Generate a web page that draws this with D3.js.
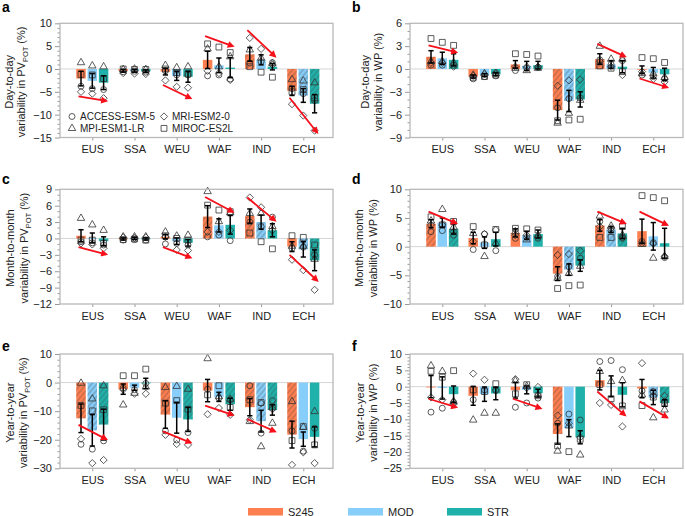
<!DOCTYPE html>
<html><head><meta charset="utf-8">
<script src="https://cdn.jsdelivr.net/npm/d3@7"></script>
<style>body{margin:0;background:#fff}svg{display:block;font-family:"Liberation Sans",Arial,sans-serif}</style>
</head><body><svg id="c" width="685" height="516"></svg>
<script>
const regions = ["EUS","SSA","WEU","WAF","IND","ECH"];
const scenarios = ["S245","MOD","STR"];
const scenarioColors = ["#FF7F50","#87CEFA","#20B2AA"];
const models = ["ACCESS-ESM-5","MRI-ESM2-0","MPI-ESM1-LR","MIROC-ES2L"];

// ---- panel a: day-to-day PVpot ----
const aTicks = [-15,-10,-5,0,5,10];
const aMean = [[-2.1,-2.6,-3.0],[-0.4,-0.4,-0.5],[-0.6,-1.5,-1.7],[2.0,0.8,0.3],[3.2,2.0,0.5],[-4.8,-5.8,-7.6]];
const aSd   = [[1.6,1.6,1.5],[0.3,0.3,0.3],[0.7,1.0,1.2],[1.9,1.6,2.2],[1.5,1.1,0.7],[1.0,1.5,2.0]];
const aAccess = [[-3.8,-4.3,-4.5],[-0.6,-0.5,-0.7],[-0.4,-1.3,-1.3],[-1.5,-1.3,-2.2],[1.3,1.6,1.4],[-4.3,-5.4,-6.9]];
const aMri    = [[-5.0,-5.4,-6.4],[-0.9,-1.0,-1.1],[-2.5,-3.9,-4.1],[-0.4,-0.9,-2.4],[6.8,4.4,0.9],[-7.7,-10.2,-13.5]];
const aMpi    = [[1.4,0.7,0.5],[-0.1,0.0,-0.1],[0.8,0.3,0.5],[4.4,0.5,2.7],[4.2,2.4,1.2],[-2.3,-2.6,-3.0]];
const aMiroc  = [[-1.2,-1.3,-2.1],[0.0,-0.1,-0.1],[0.0,-0.8,-1.1],[5.5,4.8,3.6],[0.5,-0.7,-1.8],[-5.0,-4.5,-6.3]];
const aHatch  = [[0,0,0],[0,0,0],[0,0,0],[0,0,0],[1,0,0],[1,1,1]];
const aArrows = [[0,-6.0,-7.0],[2,-3.5,-6.4],[3,7.2,5.0],[4,8.5,2.8],[5,-6.3,-13.9]];

// ---- panel b: day-to-day WP ----
const bTicks = [-9,-6,-3,0,3,6];
const bMean = [[1.6,1.4,1.2],[-1.0,-0.8,-0.7],[0.6,0.4,0.5],[-5.4,-4.2,-4.0],[1.3,0.6,0.3],[-0.1,-0.5,-0.7]];
const bSd   = [[0.8,0.8,0.8],[0.2,0.2,0.2],[0.5,0.6,0.5],[1.3,1.4,1.0],[0.7,0.5,0.8],[0.5,0.7,0.8]];
const bAccess = [[0.5,0.5,0.5],[-1.3,-1.0,-0.9],[-0.2,0.1,0.2],[-5.1,-3.9,-3.8],[1.2,0.6,1.1],[-0.8,-1.0,-1.3]];
const bMri    = [[0.8,0.8,0.3],[-0.9,-0.7,-0.5],[0.3,0.3,0.3],[-2.2,-1.5,-1.4],[1.0,0.3,-0.8],[-0.35,-1.3,-1.7]];
const bMpi    = [[1.0,1.0,0.8],[-0.8,-0.6,-0.6],[0.1,-0.2,0.1],[-7.1,-5.8,-4.1],[3.0,1.3,1.3],[-0.6,-0.6,-1.1]];
const bMiroc  = [[4.0,3.5,3.1],[-1.1,-1.0,-0.8],[2.0,1.9,1.7],[-6.8,-6.7,-6.6],[0.4,0.1,-0.35],[1.5,1.35,0.85]];
const bHatch  = [[1,0,0],[0,0,0],[0,0,0],[1,1,1],[1,0,0],[0,0,0]];
const bArrows = [[0,3.1,2.2],[4,3.3,1.65],[5,-1.25,-2.4]];

// ---- panel c: month-to-month PVpot ----
const cTicks = [-12,-9,-6,-3,0,3,6,9];
const cMean = [[0.5,0.1,-0.5],[-0.1,0.0,-0.1],[0.3,-0.5,-0.8],[4.0,2.4,2.5],[4.1,3.0,1.5],[-1.5,-2.0,-4.0]];
const cSd   = [[1.1,0.9,0.8],[0.2,0.2,0.2],[0.4,0.6,0.6],[2.0,1.2,1.7],[1.3,1.3,1.2],[0.9,1.4,1.9]];
const cAccess = [[-0.6,-0.8,-1.2],[-0.3,-0.2,-0.3],[-1.0,-0.9,-1.2],[0.3,0.6,-0.4],[3.0,2.2,3.9],[-1.8,-1.6,-3.0]];
const cMri    = [[-0.9,-1.1,-1.8],[0.2,0.1,0.2],[0.3,-2.1,-2.2],[1.2,1.2,1.5],[7.5,5.7,1.5],[-3.9,-5.8,-9.4]];
const cMpi    = [[3.7,2.5,1.5],[0.3,0.3,0.3],[1.2,0.45,0.6],[8.6,3.1,4.7],[4.6,4.6,2.2],[-1.4,-1.4,-3.8]];
const cMiroc  = [[-0.3,-0.3,-0.9],[-0.2,-0.1,-0.3],[0.5,0.0,-0.3],[6.1,5.2,4.9],[1.0,-0.6,-1.9],[0.5,0.2,-1.2]];
const cHatch  = [[0,0,0],[0,0,0],[0,0,0],[1,0,0],[1,1,0],[0,1,1]];
const cArrows = [[0,-1.6,-2.9],[2,-1.6,-3.5],[3,7.6,4.9],[4,7.5,3.3],[5,-3.0,-7.7]];

// ---- panel d: month-to-month WP ----
const dTicks = [-10,-5,0,5,10];
const dMean = [[4.0,4.2,3.1],[1.5,0.7,1.3],[2.4,2.0,2.2],[-4.7,-4.0,-3.3],[3.7,3.0,2.3],[2.7,1.8,0.6]];
const dSd   = [[0.7,0.8,0.9],[1.0,1.0,1.2],[0.7,0.7,0.7],[1.2,1.0,1.0],[1.0,0.5,0.9],[2.1,2.4,2.6]];
const dAccess = [[2.6,2.8,2.0],[-0.5,2.2,-0.7],[1.45,1.6,1.45],[-5.2,-3.5,-2.0],[4.4,2.8,1.6],[0.9,0.7,-1.9]];
const dMri    = [[3.8,3.8,2.6],[0.9,2.2,2.9],[2.0,2.0,1.7],[-1.45,-1.3,-0.7],[3.5,3.2,1.45],[0.6,0.5,-1.7]];
const dMpi    = [[4.5,6.5,3.4],[2.3,-1.7,0.6],[2.6,1.2,2.0],[-5.5,-4.65,-3.4],[5.35,3.6,2.0],[0.4,-2.0,-1.7]];
const dMiroc  = [[5.2,3.8,4.4],[3.5,0.3,3.0],[3.2,3.1,2.9],[-7.3,-6.8,-6.7],[1.6,1.6,3.5],[8.9,8.55,8.0]];
const dHatch  = [[1,0,1],[0,0,0],[0,0,0],[1,1,1],[1,1,1],[0,0,0]];
const dArrows = [[0,6.1,4.1],[4,6.1,4.1],[5,6.1,3.8]];

// ---- panel e: year-to-year PVpot ----
const eTicks = [-30,-20,-10,0,10];
const eMean = [[-12.5,-16.7,-14.7],[-2.3,-1.8,-0.3],[-11.2,-12.3,-12.9],[-2.8,-5.0,-7.6],[-8.6,-13.5,-9.6],[-18.2,-19.8,-19.0]];
const eSd   = [[5.0,5.5,5.4],[1.8,0.9,1.8],[4.8,5.4,4.2],[3.9,1.6,2.1],[3.0,3.8,1.8],[4.7,2.5,3.5]];
const eAccess = [[-21.6,-23.3,-20.4],[-1.9,-2.5,-0.3],[-16.9,-20.1,-17.5],[-2.3,-5.4,-6.0],[-1.1,-17.7,-6.3],[-16.9,-24.0,-16.0]];
const eMri    = [[-19.7,-28.2,-27.1],[-2.5,-3.9,-3.9],[-18.3,-21.5,-21.8],[-11.1,-8.9,-11.3],[-13.0,-7.2,-9.3],[-28.8,-24.4,-28.2]];
const eMpi    = [[-0.2,-5.7,-1.1],[-7.8,-3.7,-1.5],[-1.7,-1.3,-2.3],[8.4,-4.9,-5.8],[-13.6,-22.4,-14.2],[-6.6,-15.6,-10.1]];
const eMiroc  = [[-8.0,-9.9,-9.5],[2.4,2.4,4.7],[-7.2,-6.3,-9.3],[-4.3,-1.1,-8.7],[-6.0,-7.0,-8.6],[-20.3,-15.4,-21.8]];
const eHatch  = [[1,1,1],[0,0,0],[1,0,1],[0,0,1],[1,1,1],[1,0,0]];
const eArrows = [[0,-14.8,-19.8],[2,-17.1,-21.0],[3,-8.1,-11.3],[4,-12.8,-17.1]];

// ---- panel f: year-to-year WP ----
const fTicks = [-25,-20,-15,-10,-5,0,5,10];
const fMean = [[0.0,-0.4,-2.3],[-2.8,-2.3,-2.1],[-1.1,-1.0,-2.0],[-14.5,-12.7,-15.5],[2.0,0.1,-2.5],[-0.6,-3.3,-5.0]];
const fSd   = [[3.4,3.4,2.5],[2.9,2.2,1.9],[2.4,1.2,1.2],[3.1,2.6,2.0],[3.0,3.2,3.7],[2.8,2.2,1.0]];
const fAccess = [[-7.8,-6.6,-4.8],[-4.0,-1.0,-1.2],[-6.3,-5.0,-3.5],[-11.2,-8.4,-10.2],[7.7,8.0,5.2],[-1.3,-1.5,-4.5]];
const fMri    = [[-3.3,-4.0,-5.3],[4.0,2.1,-1.0],[2.3,-0.4,-0.1],[-8.8,-11.2,-15.5],[-5.0,-5.6,-12.2],[7.2,-2.8,-2.8]];
const fMpi    = [[6.4,4.7,-4.5],[-10.2,-8.1,-8.1],[1.8,0.1,-2.5],[-19.7,-12.0,-20.9],[4.7,1.6,1.9],[-2.5,-9.5,-7.1]];
const fMiroc  = [[4.7,2.9,4.9],[-1.0,-1.5,0.9],[-2.2,0.6,-2.8],[-18.1,-19.9,-16.1],[0.6,-3.7,-5.9],[-5.8,-3.2,-5.2]];
const fHatch  = [[0,0,0],[0,0,0],[0,0,0],[1,0,0],[0,0,0],[0,1,1]];
const fArrows = [[0,-3.7,-6.3],[2,-3.7,-6.6],[4,-1.5,-8.7],[5,-4.5,-9.4]];

// legend placement (data units of panel a)
const legendRowsA = [-10.4, -13.0];

// ---------------- drawing ----------------
const panels = [
  {letter:"a", mean:aMean, sd:aSd, m:[aAccess,aMri,aMpi,aMiroc], hatch:aHatch, arrows:aArrows, ticks:aTicks, minor:1, t1:"Day-to-day", wp:false, col:0, row:0, tx:[13,25], legend:true},
  {letter:"b", mean:bMean, sd:bSd, m:[bAccess,bMri,bMpi,bMiroc], hatch:bHatch, arrows:bArrows, ticks:bTicks, minor:1, t1:"Day-to-day", wp:true, col:1, row:0, tx:[369,382]},
  {letter:"c", mean:cMean, sd:cSd, m:[cAccess,cMri,cMpi,cMiroc], hatch:cHatch, arrows:cArrows, ticks:cTicks, minor:1, t1:"Month-to-month", wp:false, col:0, row:1, tx:[14,28]},
  {letter:"d", mean:dMean, sd:dSd, m:[dAccess,dMri,dMpi,dMiroc], hatch:dHatch, arrows:dArrows, ticks:dTicks, minor:1, t1:"Month-to-month", wp:true, col:1, row:1, tx:[363,377]},
  {letter:"e", mean:eMean, sd:eSd, m:[eAccess,eMri,eMpi,eMiroc], hatch:eHatch, arrows:eArrows, ticks:eTicks, minor:2, t1:"Year-to-year", wp:false, col:0, row:2, tx:[14,27]},
  {letter:"f", mean:fMean, sd:fSd, m:[fAccess,fMri,fMpi,fMiroc], hatch:fHatch, arrows:fArrows, ticks:fTicks, minor:1, t1:"Year-to-year", wp:true, col:1, row:2, tx:[364,377]},
];
const colLeft = [60, 410], plotW = 273;
const rowTop = [23.3, 189.3, 354], rowBot = [137.5, 304, 468.3];
const letterPos = [[2,12],[352,12],[2,184],[352,184],[2,351],[352,351]];

const svg = d3.select("#c");
const defs = svg.append("defs");
const pat = defs.append("pattern").attr("id","hatch").attr("patternUnits","userSpaceOnUse")
  .attr("width",4).attr("height",4).attr("patternTransform","rotate(40)");
pat.append("line").attr("x1",1).attr("y1",0).attr("x2",1).attr("y2",4)
  .attr("stroke","#3a3a3a").attr("stroke-width",0.6).attr("stroke-opacity",0.75);
defs.append("marker").attr("id","arr").attr("viewBox","0 0 10 10").attr("refX",7).attr("refY",5)
  .attr("markerWidth",8).attr("markerHeight",7).attr("markerUnits","userSpaceOnUse").attr("orient","auto")
  .append("path").attr("d","M0,0 L10,5 L0,10 z").attr("fill","#f5101a");

const diamond = {draw(ctx, size){const r=Math.sqrt(size/2); ctx.moveTo(0,-r); ctx.lineTo(r,0); ctx.lineTo(0,r); ctx.lineTo(-r,0); ctx.closePath();}};
const symTypes = [d3.symbolCircle, diamond, d3.symbolTriangle, d3.symbolSquare];
const symSizes = [28, 26, 24, 34];

const barOff = 11.3, barW = 9.5;

function yTitle(g, p, yMid){
  g.append("text").attr("transform",`translate(${p.tx[0]},${yMid}) rotate(-90)`)
    .attr("text-anchor","middle").attr("font-size",11).attr("fill","#222").text(p.t1);
  const t2 = g.append("text").attr("transform",`translate(${p.tx[1]},${yMid}) rotate(-90)`)
    .attr("text-anchor","middle").attr("font-size",11).attr("fill","#222");
  if(p.wp){ t2.text("variability in WP (%)"); }
  else {
    t2.append("tspan").text("variability in PV");
    t2.append("tspan").attr("font-size",7.5).attr("dy",2.5).text("POT");
    t2.append("tspan").attr("dy",-2.5).text(" (%)");
  }
}

panels.forEach((p,pi)=>{
  const left = colLeft[p.col], right = left+plotW, top = rowTop[p.row], bot = rowBot[p.row];
  const g = svg.append("g");
  const ext = d3.extent(p.ticks);
  const y = d3.scaleLinear().domain(ext).range([bot, top]);
  const x = d3.scalePoint().domain(regions).range([left+32.3, left+32.3+5*42.2]);
  const xs = d3.scaleLinear().domain([-1,1]).range([-barOff, barOff]);

  g.append("line").attr("x1",left).attr("x2",right).attr("y1",y(0)).attr("y2",y(0))
    .attr("stroke","#d6d6d6").attr("stroke-width",1);

  regions.forEach((r,ri)=>{
    scenarios.forEach((s,si)=>{
      const v = p.mean[ri][si];
      const cx = x(r)+xs(si-1);
      const y0 = Math.min(y(0),y(v)), h = Math.abs(y(0)-y(v));
      g.append("rect").attr("x",cx-barW/2).attr("y",y0).attr("width",barW).attr("height",Math.max(h,0.8))
        .attr("fill",scenarioColors[si]);
      if(p.hatch[ri][si]) g.append("rect").attr("x",cx-barW/2).attr("y",y0).attr("width",barW).attr("height",h)
        .attr("fill","url(#hatch)");
    });
  });
  regions.forEach((r,ri)=>{
    scenarios.forEach((s,si)=>{
      const cx = x(r)+xs(si-1);
      p.m.forEach((arr,mi)=>{
        g.append("path").attr("d",d3.symbol().type(symTypes[mi]).size(symSizes[mi])())
          .attr("transform",`translate(${cx},${y(arr[ri][si])})`)
          .attr("fill","none").attr("stroke","#333").attr("stroke-width",0.8);
      });
    });
  });
  regions.forEach((r,ri)=>{
    scenarios.forEach((s,si)=>{
      const cx = x(r)+xs(si-1), v = p.mean[ri][si], e = p.sd[ri][si];
      const hi = y(v+e), lo = y(v-e);
      g.append("line").attr("x1",cx).attr("x2",cx).attr("y1",hi).attr("y2",lo).attr("stroke","#000").attr("stroke-width",1.5);
      [hi,lo].forEach(yy=>g.append("line").attr("x1",cx-2.6).attr("x2",cx+2.6).attr("y1",yy).attr("y2",yy).attr("stroke","#000").attr("stroke-width",1.5));
    });
  });
  p.arrows.forEach(a=>{
    const cx = x(regions[a[0]]);
    g.append("line").attr("x1",cx+xs(-1.22)).attr("x2",cx+xs(1.22)).attr("y1",y(a[1])).attr("y2",y(a[2]))
      .attr("stroke","#f5101a").attr("stroke-width",1.8).attr("marker-end","url(#arr)");
  });

  const ya = d3.axisLeft(y).tickValues(p.ticks).tickSize(5).tickPadding(3).tickFormat(d3.format("d"));
  const yAx = g.append("g").attr("transform",`translate(${left},0)`).call(ya);
  const minorVals = d3.range(ext[0], ext[1]+0.001, p.minor).filter(v=>!p.ticks.includes(v));
  const yMin = g.append("g").attr("transform",`translate(${left},0)`).call(d3.axisLeft(y).tickValues(minorVals).tickSize(2.5).tickFormat(""));
  const xAx = g.append("g").attr("transform",`translate(0,${bot})`).call(d3.axisBottom(x).tickSize(3).tickPadding(5));
  [yAx,yMin,xAx].forEach(a=>{
    a.select(".domain").remove();
    a.selectAll(".tick line").attr("stroke","#9a9a9a");
    a.selectAll("text").attr("font-size",11).attr("fill","#222").attr("font-family","Liberation Sans, Arial, sans-serif");
  });
  g.append("rect").attr("x",left).attr("y",top).attr("width",plotW).attr("height",bot-top)
    .attr("fill","none").attr("stroke","#b9b9b9").attr("stroke-width",1.3);

  yTitle(g, p, (top+bot)/2+1.5);
  g.append("text").attr("x",letterPos[pi][0]).attr("y",letterPos[pi][1]).attr("font-size",14).attr("font-weight","bold").attr("fill","#000").text(p.letter);

  if(p.legend){
    const lx = [left+12, left+104], ly = legendRowsA.map(v=>y(v));
    const order = [[0,0,0],[1,1,0],[2,0,1],[3,1,1]];
    order.forEach(([mi,c,rr])=>{
      g.append("path").attr("d",d3.symbol().type(symTypes[mi]).size(symSizes[mi])())
        .attr("transform",`translate(${lx[c]},${ly[rr]})`).attr("fill","none").attr("stroke","#333").attr("stroke-width",0.8);
      g.append("text").attr("x",lx[c]+8).attr("y",ly[rr]+3.6).attr("font-size",10).attr("fill","#222").text(models[mi]);
    });
  }
});

const legX = [248, 348, 447];
scenarios.forEach((s,i)=>{
  svg.append("rect").attr("x",legX[i]).attr("y",508).attr("width",35).attr("height",7.5).attr("fill",scenarioColors[i]);
  svg.append("text").attr("x",legX[i]+40).attr("y",515.5).attr("font-size",11).attr("fill","#222").text(s);
});
</script></body></html>
